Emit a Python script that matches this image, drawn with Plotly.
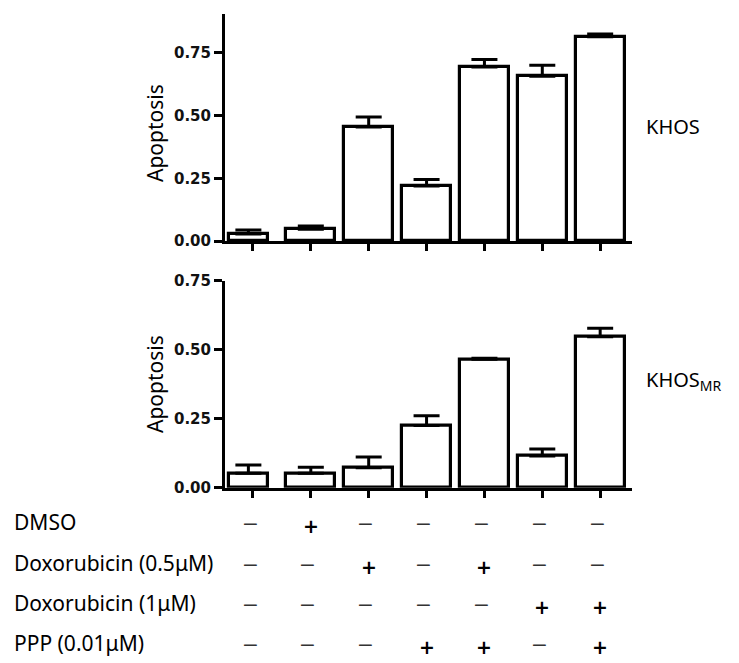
import plotly.graph_objects as go

conditions = [1, 2, 3, 4, 5, 6, 7]
khos_mean = [0.028, 0.047, 0.454, 0.219, 0.694, 0.657, 0.814]
khos_err = [0.016, 0.013, 0.040, 0.026, 0.030, 0.044, 0.011]
mr_mean = [0.052, 0.052, 0.072, 0.225, 0.465, 0.115, 0.547]
mr_err = [0.030, 0.022, 0.039, 0.036, 0.004, 0.025, 0.031]

row_labels = ["DMSO", "Doxorubicin (0.5\u03bcM)", "Doxorubicin (1\u03bcM)", "PPP (0.01\u03bcM)"]
dmso = ["-", "+", "-", "-", "-", "-", "-"]
dox05 = ["-", "-", "+", "-", "+", "-", "-"]
dox1 = ["-", "-", "-", "-", "-", "+", "+"]
ppp = ["-", "-", "-", "+", "+", "-", "+"]
table_rows = [dmso, dox05, dox1, ppp]

yticks = [0.0, 0.25, 0.5, 0.75]
panel_labels = ["KHOS", "KHOS<sub>MR</sub>"]

W, H = 739, 663
FONT = "Noto Sans"

bar_width = [0.67, 0.85, 0.85, 0.85, 0.85, 0.85, 0.85]
bar_offset = [-0.414, -0.425, -0.425, -0.425, -0.425, -0.425, -0.425]

fig = go.Figure()

def add_bars(means, errs, xa, ya):
    fig.add_trace(go.Bar(
        x=conditions, y=means, xaxis=xa, yaxis=ya,
        width=bar_width, offset=bar_offset,
        marker=dict(color="white", line=dict(color="black", width=3.2)),
        error_y=dict(type="data", array=errs, arrayminus=[0] * len(errs),
                     symmetric=False, color="black", thickness=3, width=13),
        showlegend=False, hoverinfo="skip",
    ))

add_bars(khos_mean, khos_err, "x", "y")
add_bars(mr_mean, mr_err, "x2", "y2")

def px_x(p):
    return p / W

def px_y(p):
    return 1 - p / H

xrange = [0.517, 7.55]
xdom = [px_x(225), px_x(632)]

xcommon = dict(range=xrange, domain=xdom, showline=True, linecolor="black", linewidth=3,
               ticks="outside", ticklen=7, tickwidth=3, tickcolor="black",
               tickvals=conditions, showticklabels=False, showgrid=False, zeroline=False,
               fixedrange=True)
ycommon = dict(showline=True, linecolor="black", linewidth=3,
               ticks="outside", ticklen=8, tickwidth=2.5, tickcolor="black",
               tickvals=yticks, tickformat=".2f", showgrid=False, zeroline=False,
               tickfont=dict(family="DejaVu Sans", size=15, color="#111111", weight="bold"),
               fixedrange=True)

fig.update_layout(
    width=W, height=H,
    margin=dict(l=0, r=0, t=0, b=0, autoexpand=False),
    paper_bgcolor="white", plot_bgcolor="white",
    bargap=0,
    xaxis=dict(**xcommon, anchor="y"),
    yaxis=dict(**ycommon, range=[0, 0.905], domain=[px_y(241), px_y(14)], anchor="x"),
    xaxis2=dict(**xcommon, anchor="y2"),
    yaxis2=dict(**ycommon, range=[0, 0.75], domain=[px_y(487.7), px_y(280.7)], anchor="x2"),
)

ann = []
# y-axis titles
for yc in [133, 384]:
    ann.append(dict(text="Apoptosis", x=px_x(155), y=px_y(yc), xref="paper", yref="paper",
                    textangle=-90, showarrow=False, xanchor="center", yanchor="middle",
                    font=dict(family=FONT, size=21, color="black")))
# panel labels
for lab, yc in zip(panel_labels, [127, 380]):
    ann.append(dict(text=lab, x=px_x(644), y=px_y(yc), xref="paper", yref="paper",
                    showarrow=False, xanchor="left", yanchor="middle",
                    font=dict(family=FONT, size=20, color="black")))
# treatment table
row_y = [522, 563, 603, 643]
for lab, ry, row in zip(row_labels, row_y, table_rows):
    ann.append(dict(text=lab, x=px_x(12), y=px_y(ry), xref="paper", yref="paper",
                    showarrow=False, xanchor="left", yanchor="middle",
                    font=dict(family=FONT, size=21, color="black")))
    for c, s in zip(conditions, row):
        if s == "+":
            ann.append(dict(text="<b>+</b>", x=c, y=px_y(ry + 4), xref="x", yref="paper",
                            showarrow=False, xanchor="center", yanchor="middle",
                            font=dict(family="DejaVu Sans", size=19, color="black")))
        else:
            ann.append(dict(text="\u2013", x=c - 0.05, y=px_y(ry), xref="x", yref="paper",
                            showarrow=False, xanchor="center", yanchor="middle",
                            font=dict(family="Liberation Sans", size=23, color="#333333")))

fig.update_layout(annotations=ann)

fig.write_html("out.html", config={"displayModeBar": False},
               post_script="document.body.style.margin='0';")
